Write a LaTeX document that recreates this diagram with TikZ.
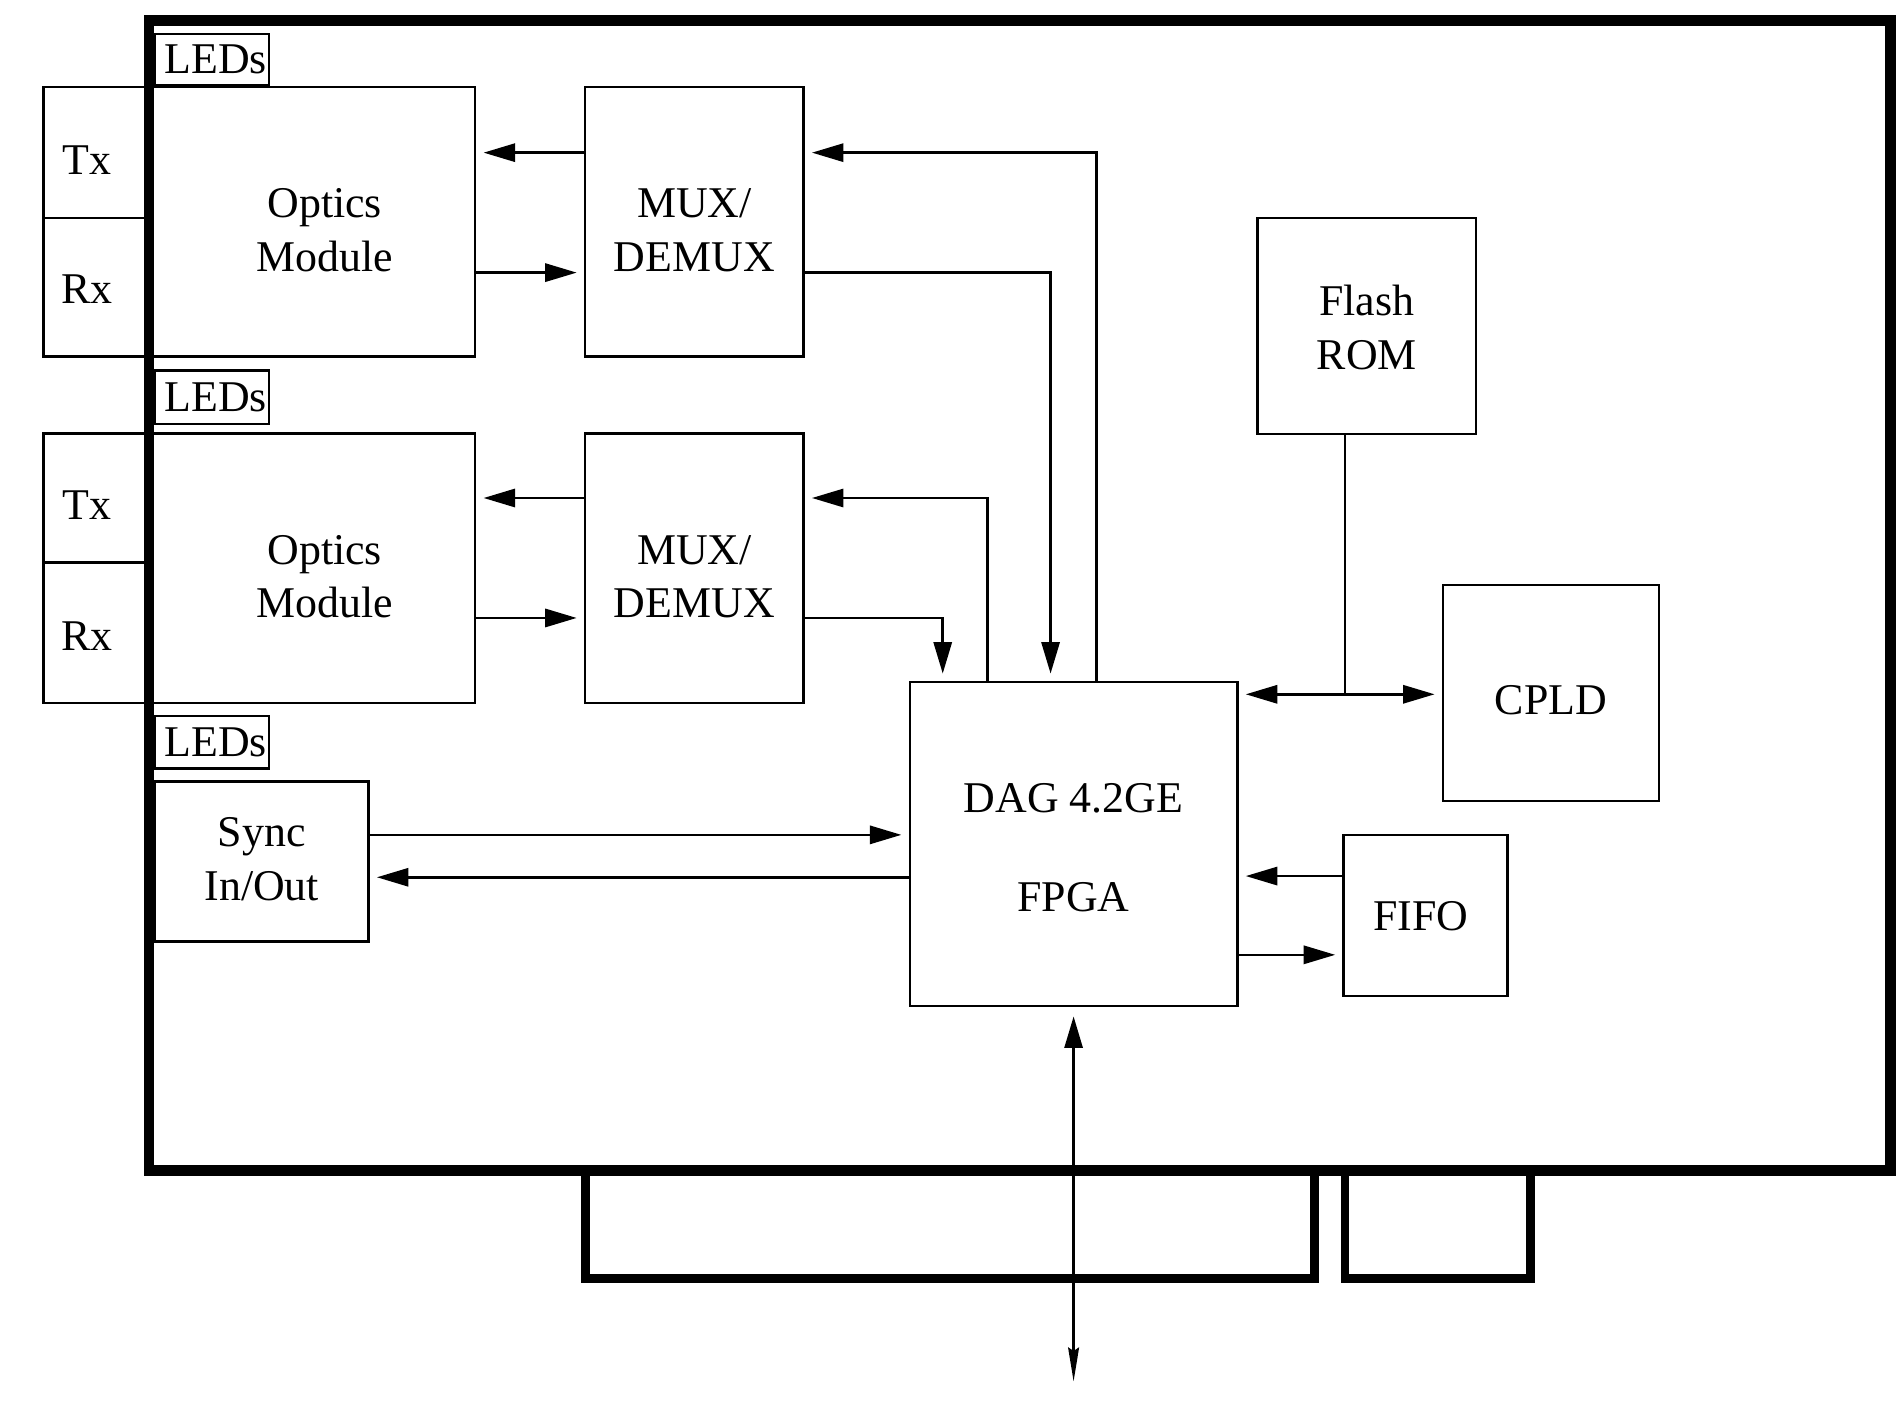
\documentclass[tikz,border=0pt]{standalone}
\usepackage{fontspec}
\setmainfont{Liberation Serif}
\usetikzlibrary{arrows.meta}
\begin{document}
\begin{tikzpicture}[x=0.01cm,y=-0.01cm,
  font=\fontsize{10.3}{12.6}\selectfont,
  blk/.style={draw, line width=0.6pt, inner sep=0pt},
  lbl/.style={align=center},
  tip/.style={Triangle[length=2.6mm,width=1.5mm]},
  conn/.style={line width=0.6pt},
  arr/.style={conn, -{Triangle[length=2.6mm,width=1.5mm]}, shorten >=1.7pt},
  dbl/.style={{Triangle[length=2.6mm,width=1.5mm]}-{Triangle[length=2.6mm,width=1.5mm]}, shorten <=1.7pt},
  board/.style={line width=2.5pt, line join=miter},
  tabline/.style={line width=2pt, line join=miter}]
\useasboundingbox (0,0) rectangle (1568,1171);
% left connectors
\node[blk, minimum width=0.87cm, minimum height=1.08cm, label={[lbl, shift={(-8,6)}]center:Tx}] (tx1) at (79.5,126) {};
\node[blk, minimum width=0.87cm, minimum height=1.14cm, label={[lbl, shift={(-8,2)}]center:Rx}] (rx1) at (79.5,237) {};
\node[blk, minimum width=0.87cm, minimum height=1.06cm, label={[lbl, shift={(-8,6)}]center:Tx}] (tx2) at (79.5,411) {};
\node[blk, minimum width=0.87cm, minimum height=1.16cm, label={[lbl, shift={(-8,3)}]center:Rx}] (rx2) at (79.5,522) {};
% LEDs
\node[blk, minimum width=0.94cm, minimum height=0.42cm, label={[lbl, shift={(3,0)}]center:LEDs}] (led1) at (175,49) {};
\node[blk, minimum width=0.94cm, minimum height=0.44cm, label={[lbl, shift={(3,0)}]center:LEDs}] (led2) at (175,328) {};
\node[blk, minimum width=0.94cm, minimum height=0.43cm, label={[lbl, shift={(3,0)}]center:LEDs}] (led3) at (175,612.5) {};
% modules
\node[blk, minimum width=2.69cm, minimum height=2.22cm, label={[lbl, shift={(10.5,7)}]center:{Optics\\Module}}] (opt1) at (257.5,183) {};
\node[blk, minimum width=2.69cm, minimum height=2.22cm, label={[lbl, shift={(10.5,7)}]center:{Optics\\Module}}] (opt2) at (257.5,469) {};
\node[blk, minimum width=1.80cm, minimum height=2.22cm, label={[lbl, shift={(0,7)}]center:{MUX/\\DEMUX}}] (mux1) at (573,183) {};
\node[blk, minimum width=1.80cm, minimum height=2.22cm, label={[lbl, shift={(0,7)}]center:{MUX/\\DEMUX}}] (mux2) at (573,469) {};
\node[blk, minimum width=1.76cm, minimum height=1.32cm, label={[lbl, shift={(0,-2)}]center:{Sync\\In/Out}}] (sync) at (216,711) {};
\node[blk, minimum width=2.70cm, minimum height=2.67cm, label={[lbl, shift={(0,3)}]center:{DAG 4.2GE\\[0.376cm]FPGA}}] (fpga) at (886,696.5) {};
\node[blk, minimum width=1.80cm, minimum height=1.78cm, label={[lbl, shift={(0,1)}]center:{Flash\\ROM}}] (flash) at (1128,269) {};
\node[blk, minimum width=1.78cm, minimum height=1.78cm, label={[lbl, shift={(0,6)}]center:CPLD}] (cpld) at (1280,572) {};
\node[blk, minimum width=1.35cm, minimum height=1.33cm, label={[lbl, shift={(-4,1)}]center:FIFO}] (fifo) at (1176.5,755.5) {};
% board outline and tabs
\draw[board] (123,17) rectangle (1560,966);
\draw[tabline] (483,966) -- (483,1055) -- (1085,1055) -- (1085,966);
\draw[tabline] (1110,966) -- (1110,1055) -- (1263,1055) -- (1263,966);
% connectors
\coordinate (jn) at (1110,573);
\coordinate (ext) at (886,1140);
\draw[arr] (mux1.west |- 0,126) -- (opt1.east |- 0,126);
\draw[arr] (opt1.east |- 0,225) -- (mux1.west |- 0,225);
\draw[arr] (mux2.west |- 0,411) -- (opt2.east |- 0,411);
\draw[arr] (opt2.east |- 0,510) -- (mux2.west |- 0,510);
\draw[arr] (fpga.north -| 905,0) |- (mux1.east |- 0,126);
\draw[arr] (mux1.east |- 0,225) -| (fpga.north -| 867,0);
\draw[arr] (fpga.north -| 815,0) |- (mux2.east |- 0,411);
\draw[arr] (mux2.east |- 0,510) -| (fpga.north -| 778,0);
\draw[conn] (flash.south -| jn) -- (jn);
\draw[arr, dbl] (fpga.east |- jn) -- (cpld.west |- jn);
\draw[arr] (fifo.west |- 0,723) -- (fpga.east |- 0,723);
\draw[arr] (fpga.east |- 0,788) -- (fifo.west |- 0,788);
\draw[arr] (sync.east |- 0,689) -- (fpga.west |- 0,689);
\draw[arr] (fpga.west |- 0,724) -- (sync.east |- 0,724);
\draw[line width=0.55pt, {Triangle[length=2.6mm,width=1.5mm]}-{Stealth[length=2.8mm,width=0.9mm,inset=0.3mm]}, shorten <=2.2pt] (fpga.south) -- (ext);
\end{tikzpicture}
\end{document}
